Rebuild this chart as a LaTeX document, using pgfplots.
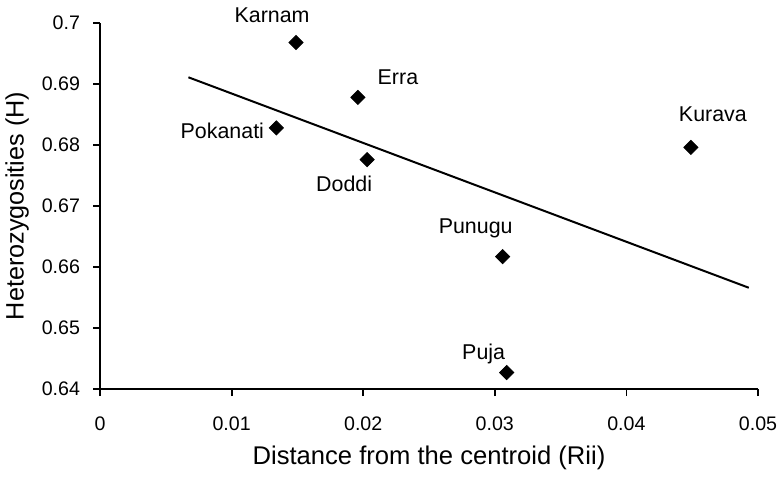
\documentclass[border=0pt]{standalone}
\usepackage{pgfplots}
\pgfplotsset{compat=1.18}
\usepackage{fontspec}
\setmainfont{Liberation Sans}
\begin{document}
\begin{tikzpicture}
\path[use as bounding box] (-50pt,-43.5pt) rectangle (340pt,194.5pt);
\begin{axis}[
  scale only axis, width=329pt, height=183pt,
  xmin=0, xmax=0.05, ymin=0.64, ymax=0.7,
  scaled x ticks=false, scaled y ticks=false,
  axis lines*=left,
  axis line style={line width=1pt},
  tick align=outside, major tick length=3.5pt,
  tick style={line width=0.9pt, black},
  xtick={0,0.01,0.02,0.03,0.04,0.05},
  xticklabels={0,0.01,0.02,0.03,0.04,0.05},
  ytick={0.64,0.65,0.66,0.67,0.68,0.69,0.7},
  yticklabels={0.64,0.65,0.66,0.67,0.68,0.69,0.7},
  tick label style={font=\fontsize{9.8}{11}\selectfont},
  xticklabel style={yshift=-7pt},
  yticklabel style={xshift=-3pt},
  xlabel={Distance from the centroid (Rii)},
  ylabel={Heterozygosities (H)},
  every axis x label/.style={at={(axis description cs:0.5,-0.1885)}, anchor=center, font=\fontsize{12.8}{14}\selectfont},
  every axis y label/.style={at={(axis description cs:-0.126,0.5)}, rotate=90, anchor=center, font=\fontsize{12.6}{14}\selectfont},
  clip=false,
]
\addplot[only marks, mark=square*, mark size=2.5pt, mark options={rotate=45, fill=black, draw=black}]
  coordinates {
  (0.0149,0.6968)
  (0.0196,0.6878)
  (0.0134,0.6828)
  (0.0203,0.6776)
  (0.0306,0.6617)
  (0.0309,0.6427)
  (0.0449,0.6796)
  };
\addplot[line width=1pt, no marks] coordinates {(0.00672,0.6911) (0.0493,0.6566)};
\begin{scope}[every node/.style={font=\fontsize{10.7}{12}\selectfont}]
\node[xshift=-12pt, yshift=13.5pt] at (axis cs:0.0149,0.6968) {Karnam};
\node[xshift=20pt, yshift=10pt] at (axis cs:0.0196,0.6878) {Erra};
\node[xshift=-27pt, yshift=-1.5pt] at (axis cs:0.0134,0.6828) {Pokanati};
\node[xshift=-11.5pt, yshift=-12pt] at (axis cs:0.0203,0.6776) {Doddi};
\node[xshift=-13.5pt, yshift=14pt] at (axis cs:0.0306,0.6617) {Punugu};
\node[xshift=-11.5pt, yshift=9.5pt] at (axis cs:0.0309,0.6427) {Puja};
\node[xshift=11pt, yshift=16.5pt] at (axis cs:0.0449,0.6796) {Kurava};
\end{scope}
\end{axis}
\end{tikzpicture}
\end{document}
